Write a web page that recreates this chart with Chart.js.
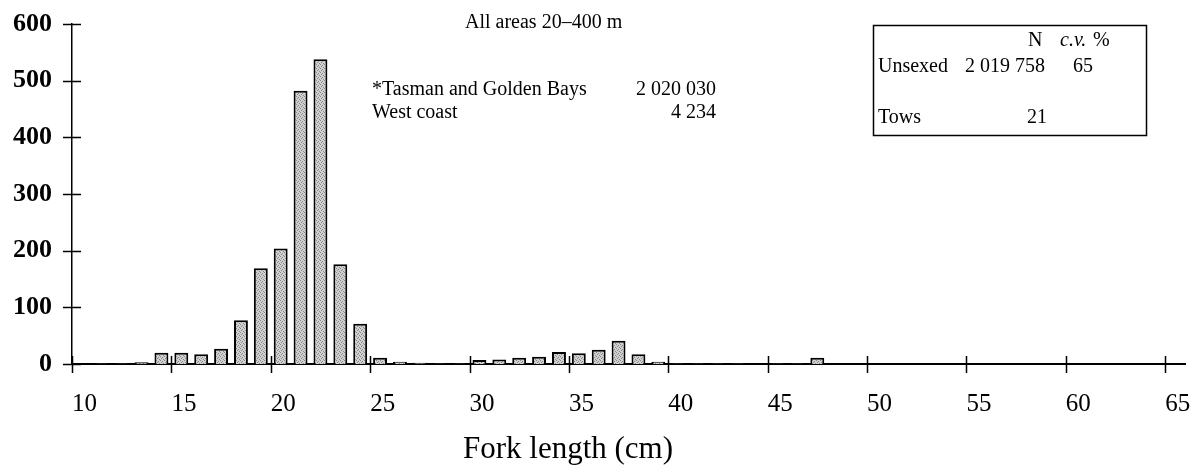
<!DOCTYPE html>
<html>
<head>
<meta charset="utf-8">
<script src="https://cdn.jsdelivr.net/npm/chart.js"></script>
<style>
  body { margin: 0; background: #fff; }
  canvas { display: block; }
</style>
</head>
<body>
<canvas id="lfChart" width="1199" height="473"></canvas>
<script>
// 1 cm length classes (lower edge) and estimated numbers (thousands)
var lengths = [10, 11, 12, 13, 14, 15, 16, 17, 18, 19,
               20, 21, 22, 23, 24, 25, 26, 27, 28, 29,
               30, 31, 32, 33, 34, 35, 36, 37, 38, 39,
               40, 41, 42, 43, 44, 45, 46, 47, 48, 49,
               50, 51, 52, 53, 54, 55, 56, 57, 58, 59,
               60, 61, 62, 63, 64];
var counts = [0, 1, 1, 3, 20, 20, 17, 27, 77, 169,
              204, 482, 538, 176, 71, 11, 4, 2, 1, 1,
              7, 8, 11, 13, 21, 19, 25, 41, 17, 4,
              1, 1, 1, 1, 0, 1, 1, 11, 0, 0,
              0, 0, 0, 0, 0, 0, 0, 0, 0, 0,
              0, 0, 0, 0, 0];
var yTicks = [0, 100, 200, 300, 400, 500, 600];
var xTicks = [10, 15, 20, 25, 30, 35, 40, 45, 50, 55, 60, 65];

var serif = '"Liberation Serif", "Times New Roman", serif';

function stipple() {
  var c = document.createElement('canvas');
  c.width = 4; c.height = 4;
  var g = c.getContext('2d');
  g.fillStyle = '#d0d0d0';
  g.fillRect(0, 0, 4, 4);
  g.fillStyle = '#888';
  g.fillRect(0, 0, 1, 1);
  g.fillRect(2, 1, 1, 1);
  g.fillRect(1, 2, 1, 1);
  g.fillRect(3, 3, 1, 1);
  return g.createPattern(c, 'repeat');
}

// tick marks crossing both axes + the text blocks
var extras = {
  id: 'extras',
  afterDraw: function(chart) {
    var ctx = chart.ctx;
    var xs = chart.scales.x, ys = chart.scales.y;
    var area = chart.chartArea;
    ctx.save();
    ctx.strokeStyle = '#000';
    ctx.lineWidth = 1.5;
    ctx.beginPath();
    yTicks.forEach(function(v) {
      var py = Math.round(ys.getPixelForValue(v)) + 0.5;
      ctx.moveTo(area.left - 9, py);
      ctx.lineTo(area.left + 9, py);
    });
    xTicks.forEach(function(v) {
      var px = Math.round(xs.getPixelForValue(v)) + 0.5;
      ctx.moveTo(px, area.bottom - 8);
      ctx.lineTo(px, area.bottom + 9);
    });
    ctx.stroke();

    ctx.fillStyle = '#000';
    ctx.textBaseline = 'middle';
    ctx.font = '20px ' + serif;
    ctx.textAlign = 'left';
    ctx.fillText('All areas 20\u2013400 m', 465, 23);
    ctx.fillText('*Tasman and Golden Bays', 372, 90);
    ctx.fillText('West coast', 372, 113);
    ctx.textAlign = 'right';
    ctx.fillText('2 020 030', 716, 90);
    ctx.fillText('4 234', 716, 113);

    // N / c.v. box
    ctx.lineWidth = 1.5;
    ctx.strokeRect(873.5, 25.5, 273, 110);
    ctx.textAlign = 'left';
    ctx.fillText('N', 1028, 41);
    ctx.font = 'italic 20px ' + serif;
    ctx.fillText('c.v.', 1060, 41);
    ctx.font = '20px ' + serif;
    ctx.fillText('%', 1093, 41);
    ctx.fillText('Unsexed', 878, 67);
    ctx.fillText('Tows', 878, 118);
    ctx.textAlign = 'right';
    ctx.fillText('2 019 758', 1045, 67);
    ctx.fillText('65', 1093, 67);
    ctx.fillText('21', 1047, 118);

    ctx.textAlign = 'center';
    ctx.font = '31px ' + serif;
    ctx.fillText('Fork length (cm)', 568, 450);
    ctx.restore();
  }
};

var ctx = document.getElementById('lfChart').getContext('2d');
var chart = new Chart(ctx, {
  type: 'bar',
  data: {
    datasets: [
      {
        label: 'Unsexed',
        data: lengths.map(function(l, i) { return { x: l + 0.5, y: counts[i] }; }),
        backgroundColor: stipple(),
        borderColor: '#000',
        borderWidth: 2,
        barPercentage: 0.7,
        categoryPercentage: 1,
      },
    ],
  },
  options: {
    responsive: false,
    animation: false,
    layout: { padding: { top: 24, right: 14, left: 0, bottom: 0 } },
    plugins: {
      legend: { display: false },
      tooltip: { enabled: false },
    },
    scales: {
      x: {
        type: 'linear',
        offset: false,
        min: 10,
        max: 66,
        grid: { display: false, drawTicks: false },
        border: { display: true, color: '#000', width: 2 },
        afterBuildTicks: function(scale) {
          scale.ticks = xTicks.map(function(v) { return { value: v }; });
        },
        afterFit: function(scale) {
          scale.height = 109;
          scale.paddingLeft = 0;
          scale.paddingRight = 0;
        },
        ticks: {
          align: 'start',
          padding: 25,
          color: '#000',
          font: { family: serif, size: 25 },
        },
      },
      y: {
        min: 0,
        max: 600,
        grid: { display: false, drawTicks: false },
        border: { display: true, color: '#000', width: 1.5 },
        afterBuildTicks: function(scale) {
          scale.ticks = yTicks.map(function(v) { return { value: v }; });
        },
        afterFit: function(scale) {
          scale.width = 72;
          scale.paddingTop = 0;
          scale.paddingBottom = 0;
        },
        ticks: {
          padding: 20,
          color: '#000',
          font: { family: serif, size: 26, weight: 'bold' },
        },
      },
    },
  },
  plugins: [extras],
});
</script>
</body>
</html>
